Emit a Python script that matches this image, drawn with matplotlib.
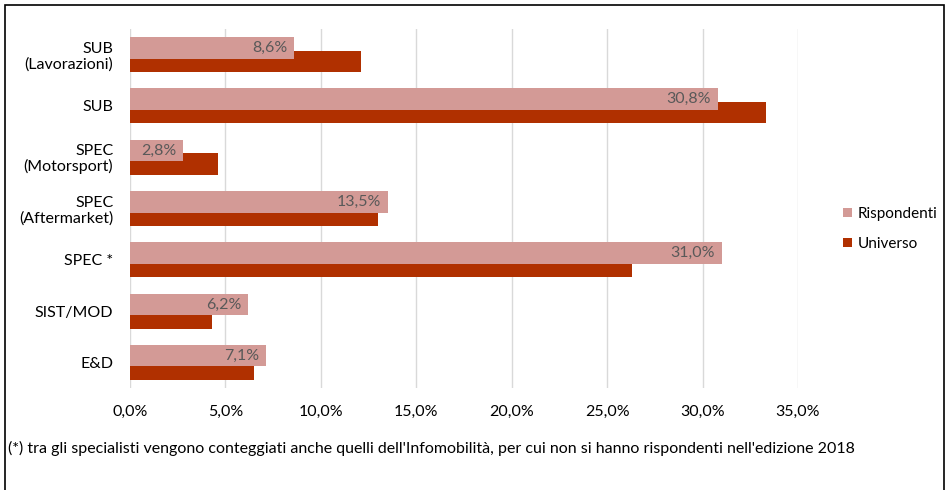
import matplotlib
matplotlib.use("Agg")
import matplotlib.pyplot as plt
from matplotlib.patches import Rectangle
from matplotlib.ticker import FuncFormatter

categories = ["SUB\n(Lavorazioni)", "SUB", "SPEC\n(Motorsport)", "SPEC\n(Aftermarket)",
              "SPEC *", "SIST/MOD", "E&D"]
rispondenti = [8.6, 30.8, 2.8, 13.5, 31.0, 6.2, 7.1]
universo = [12.1, 33.3, 4.6, 13.0, 26.3, 4.3, 6.5]
xticks = [0, 5, 10, 15, 20, 25, 30, 35]
footnote = ("(*) tra gli specialisti vengono conteggiati anche quelli dell'Infomobilità, "
            "per cui non si hanno rispondenti nell'edizione 2018")

plt.rcParams['font.family'] = ['Lato', 'DejaVu Sans']
FS = 11.5
W, H = 946, 490
fig = plt.figure(figsize=(W / 100, H / 100), dpi=100)
ax = fig.add_axes([130 / W, 1 - 388 / H, (798 - 130) / W, (388 - 29) / H])

c_risp = "#D39A96"
c_univ = "#B03000"
n = len(categories)
ys = list(range(n))
h = 0.42
off = 0.13
ax.barh([y + off for y in ys], universo, height=h, color=c_univ, zorder=2, label="Universo")
bars = ax.barh([y - off for y in ys], rispondenti, height=h, color=c_risp, zorder=3,
               label="Rispondenti")
for b, v in zip(bars, rispondenti):
    ax.text(b.get_width() - 0.35, b.get_y() + b.get_height() / 2,
            f"{v:.1f}%".replace(".", ","), ha="right", va="center",
            fontsize=FS, color="#595959", zorder=4)

ax.set_ylim(n - 0.5, -0.5)
ax.set_xlim(0, 35)
ax.set_xticks(xticks)
ax.xaxis.set_major_formatter(FuncFormatter(lambda v, p: f"{v:.1f}%".replace(".", ",")))
ax.set_yticks(ys)
ax.set_yticklabels(categories, fontsize=FS, color="#000000", linespacing=1.1)
ax.tick_params(axis="both", length=0, labelsize=FS, colors="#000000")
ax.tick_params(axis="x", pad=12)
ax.tick_params(axis="y", pad=12)
ax.grid(axis="x", color="#D9D9D9", linewidth=1, zorder=0)
ax.set_axisbelow(True)
for s in ax.spines.values():
    s.set_visible(False)

handles, labels = ax.get_legend_handles_labels()
leg = fig.legend(handles[::-1], labels[::-1], loc="center left",
                 bbox_to_anchor=(829 / W, 1 - 229 / H), frameon=False,
                 fontsize=11, handlelength=0.6, handleheight=0.6,
                 handletextpad=0.4, labelspacing=1.05)

fig.text(8 / W, 1 - 448 / H, footnote, fontsize=FS, ha="left", va="center", color="#000000")

fig.patches.append(Rectangle((5 / W, -0.05), (944 - 5) / W, 1.05 - 5 / H,
                             transform=fig.transFigure, fill=False,
                             edgecolor="#000000", linewidth=1.2))

fig.savefig("out.png", dpi=100)
